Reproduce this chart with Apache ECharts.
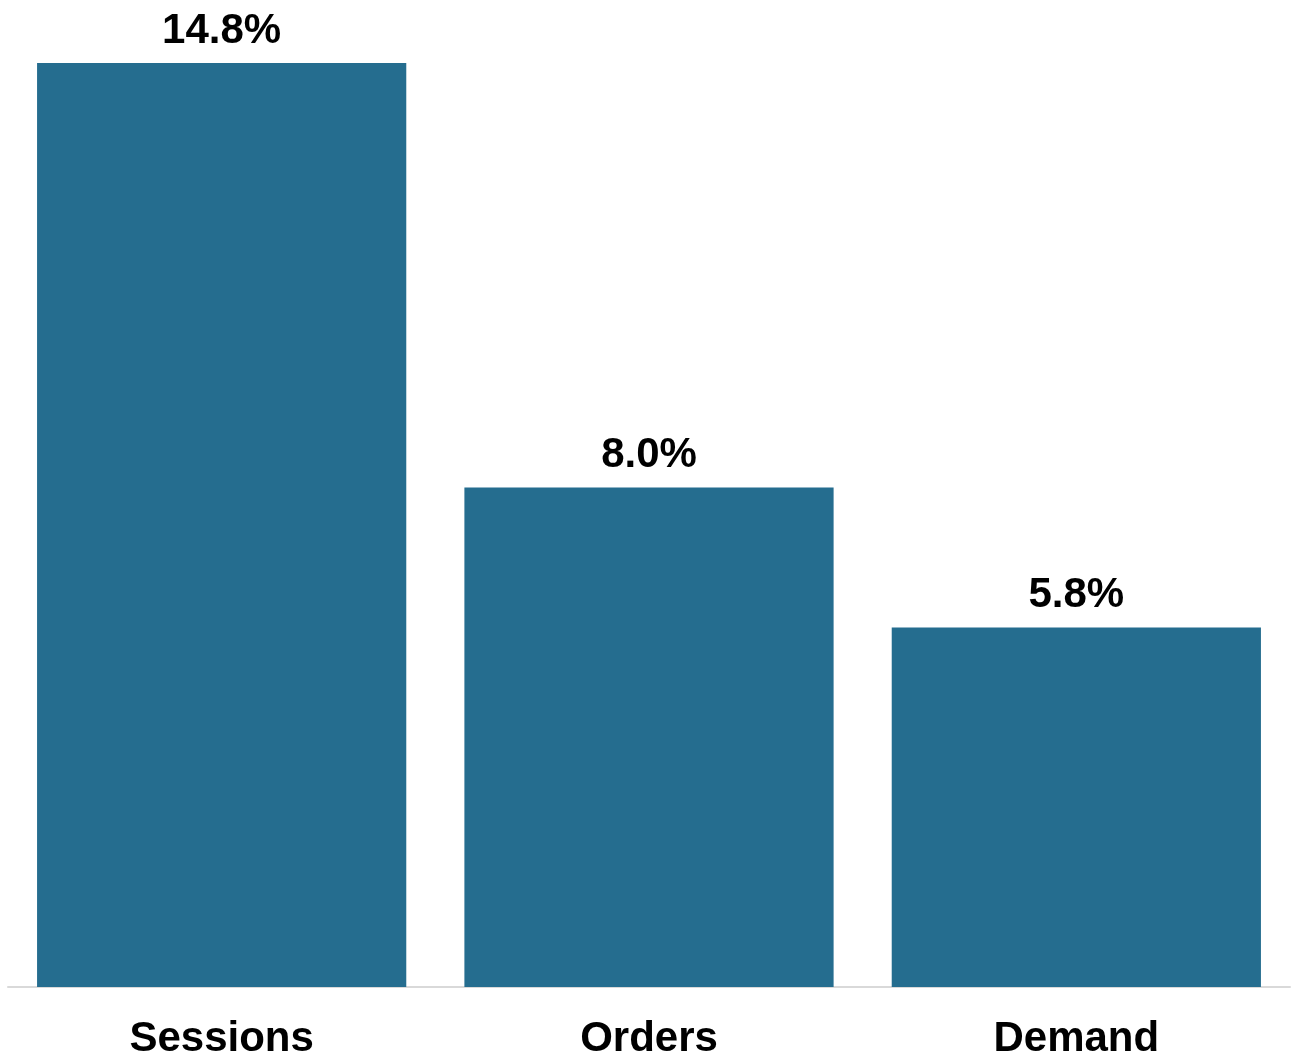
<!DOCTYPE html>
<html><head><meta charset="utf-8">
<script src="https://cdn.jsdelivr.net/npm/echarts@6/dist/echarts.min.js"></script>
<style>html,body{margin:0;padding:0;background:#fff}#c{width:1292px;height:1057px}</style>
</head><body><div id="c"></div>
<script>
const categories = ["Sessions", "Orders", "Demand"];
const values = [14.8, 8.0, 5.76];
const chart = echarts.init(document.getElementById('c'), null, {renderer: 'canvas'});
chart.setOption({
  animation: false,
  grid: {left: 8, right: 2, top: 63, bottom: 70, containLabel: false, outerBoundsMode: 'none'},
  xAxis: {
    type: 'category', data: categories,
    axisLine: {lineStyle: {color: '#d9d9d9', width: 2}},
    axisTick: {show: false},
    axisLabel: {fontFamily: 'Liberation Sans, Arial', fontWeight: 'bold', fontSize: 42, color: '#000', margin: 31}
  },
  yAxis: {type: 'value', min: 0, max: 14.8, show: false, splitLine: {show: false}},
  series: [{
    type: 'bar', data: values, barCategoryGap: '13.6%',
    itemStyle: {color: '#256d8f'},
    label: {show: true, position: 'top', distance: 11, formatter: p => p.value.toFixed(1) + '%',
      fontFamily: 'Liberation Sans, Arial', fontWeight: 'bold', fontSize: 42, color: '#000'}
  }]
});
</script></body></html>
